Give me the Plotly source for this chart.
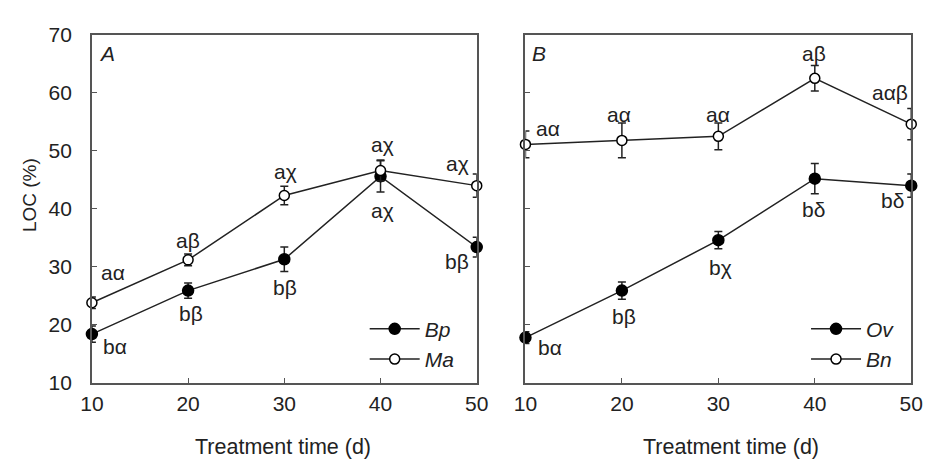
import plotly.graph_objects as go

# ---------------- data ----------------
days = [10, 20, 30, 40, 50]

# Panel A
bp_mean = [18.4, 25.9, 31.3, 45.6, 33.4]
bp_err = [1.4, 1.3, 2.1, 2.7, 1.7]
ma_mean = [23.8, 31.2, 42.3, 46.6, 44.0]
ma_err = [1.0, 1.0, 1.6, 1.8, 2.0]
bp_labels = ["bα", "bβ", "bβ", "aχ", "bβ"]
ma_labels = ["aα", "aβ", "aχ", "aχ", "aχ"]

# Panel B
ov_mean = [17.8, 25.9, 34.6, 45.2, 44.0]
ov_err = [1.0, 1.5, 1.5, 2.6, 2.0]
bn_mean = [51.1, 51.8, 52.5, 62.5, 54.6]
bn_err = [2.3, 3.0, 2.3, 2.2, 2.7]
ov_labels = ["bα", "bβ", "bχ", "bδ", "bδ"]
bn_labels = ["aα", "aα", "aα", "aβ", "aαβ"]

y_ticks = [10, 20, 30, 40, 50, 60, 70]
x_ticks = [10, 20, 30, 40, 50]

# ---------------- label offsets (px) ----------------
bp_off = [(23, -12), (3, -23), (1, -28), (2, -34), (-20, -14)]
ma_off = [(21, 30), (0, 19), (1, 24), (2, 26), (-19, 22)]
ov_off = [(25, -10), (2, -26), (2, -27), (-1, -31), (-19, -15)]
bn_off = [(23, 16), (-3, 26), (0, 22), (-1, 25), (-21, 32)]

FONT = "Liberation Sans, Arial, sans-serif"
INK = "#222222"
AX = "#555555"
FS = 21

fig = go.Figure()


def add_series(x, y, err, name, filled, xa, ya, legend):
    fig.add_trace(go.Scatter(
        x=x, y=y, name=f"<i>{name}</i>", mode="lines+markers",
        xaxis=xa, yaxis=ya, legend=legend, cliponaxis=False,
        line=dict(color=INK, width=1.5),
        marker=dict(size=11 if filled else 10, symbol="circle",
                    color="black" if filled else "white",
                    line=dict(color="black", width=1.5)),
        error_y=dict(type="data", array=err, visible=True,
                     color=INK, thickness=1.5, width=4),
    ))


add_series(days, bp_mean, bp_err, "Bp", True, "x", "y", "legend")
add_series(days, ma_mean, ma_err, "Ma", False, "x", "y", "legend")
add_series(days, ov_mean, ov_err, "Ov", True, "x2", "y2", "legend2")
add_series(days, bn_mean, bn_err, "Bn", False, "x2", "y2", "legend2")

annotations = []


def add_labels(x, y, labels, offs, xref, yref):
    for xi, yi, t, (dx, dy) in zip(x, y, labels, offs):
        annotations.append(dict(
            x=xi, y=yi, xref=xref, yref=yref, text=t, showarrow=False,
            xanchor="center", yanchor="middle", xshift=dx, yshift=dy,
            font=dict(family=FONT, size=FS, color=INK)))


add_labels(days, bp_mean, bp_labels, bp_off, "x", "y")
add_labels(days, ma_mean, ma_labels, ma_off, "x", "y")
add_labels(days, ov_mean, ov_labels, ov_off, "x2", "y2")
add_labels(days, bn_mean, bn_labels, bn_off, "x2", "y2")

W, H = 933, 468
dxA = [82 / W, 477 / W]
dxB = [527 / W, 923 / W]
dy = [1 - 390 / H, 1 - 24 / H]

# panel letters
for dom, letter in ((dxA, "A"), (dxB, "B")):
    annotations.append(dict(x=dom[0], y=1 - 44 / H, xref="paper", yref="paper",
                            text=f"<i>{letter}</i>", showarrow=False,
                            xanchor="left", yanchor="middle", xshift=5,
                            font=dict(family=FONT, size=FS, color=INK)))
# axis titles
annotations.append(dict(x=(dxA[0] + dxA[1]) / 2, y=1 - 457 / H, xref="paper",
                        yref="paper", text="Treatment time (d)", showarrow=False,
                        xanchor="center", yanchor="middle", xshift=-1,
                        font=dict(family=FONT, size=21.5, color=INK)))
annotations.append(dict(x=(dxB[0] + dxB[1]) / 2, y=1 - 457 / H, xref="paper",
                        yref="paper", text="Treatment time (d)", showarrow=False,
                        xanchor="center", yanchor="middle", xshift=13,
                        font=dict(family=FONT, size=21.5, color=INK)))
annotations.append(dict(x=18 / W, y=1 - 193 / H, xref="paper", yref="paper",
                        text="LOC (%)", showarrow=False, textangle=-90,
                        xanchor="center", yanchor="middle",
                        font=dict(family=FONT, size=19, color=INK)))

axis_common = dict(showline=True, linecolor=AX, linewidth=1.5, mirror=True,
                   ticks="inside", ticklen=5, tickwidth=1.2, tickcolor=AX,
                   showgrid=False, zeroline=False,
                   tickfont=dict(family=FONT, size=FS, color=INK))

fig.update_layout(
    width=W, height=H,
    margin=dict(l=0, r=0, t=0, b=0),
    paper_bgcolor="white", plot_bgcolor="white",
    showlegend=True,
    xaxis=dict(domain=dxA, range=[10, 50], tickvals=x_ticks, anchor="y",
               ticklabelstandoff=1, **axis_common),
    yaxis=dict(domain=dy, range=[10, 70], tickvals=y_ticks, anchor="x",
               ticklabelstandoff=14, **axis_common),
    xaxis2=dict(domain=dxB, range=[10, 50], tickvals=x_ticks, anchor="y2",
                ticklabelstandoff=1, **axis_common),
    yaxis2=dict(domain=dy, range=[10, 70], tickvals=y_ticks, anchor="x2",
                showticklabels=False, **axis_common),
    legend=dict(x=362 / W, y=1 - 312 / H, xanchor="left", yanchor="top",
                bgcolor="rgba(0,0,0,0)", tracegroupgap=0, itemwidth=50,
                font=dict(family=FONT, size=FS, color=INK)),
    legend2=dict(x=815 / W, y=1 - 312 / H, xanchor="left", yanchor="top",
                 bgcolor="rgba(0,0,0,0)", tracegroupgap=0, itemwidth=50,
                 font=dict(family=FONT, size=FS, color=INK)),
    annotations=annotations,
)

fig.write_html("out.html")
